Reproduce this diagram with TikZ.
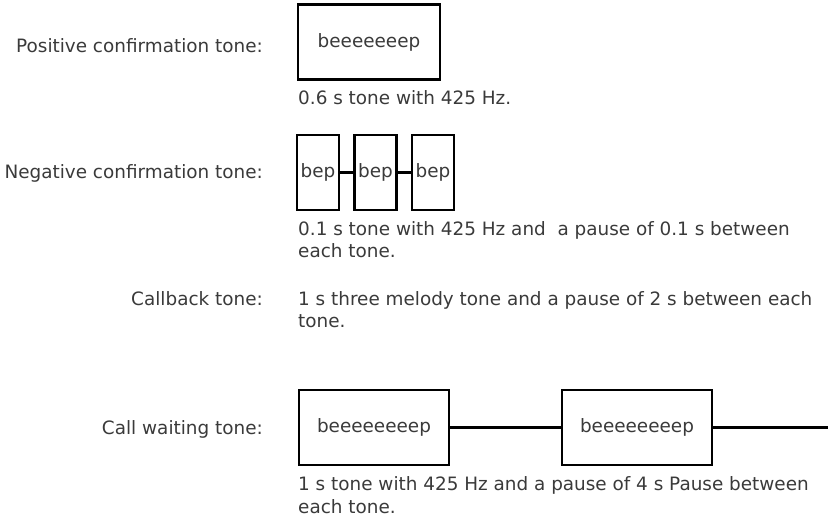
\documentclass[tikz,border=0pt]{standalone}
\usepackage{fontspec}
\setmainfont{DejaVu Sans}
\usepackage{tikz}
\usetikzlibrary{positioning}
\definecolor{txt}{HTML}{3A3A3A}

\begin{document}
\begin{tikzpicture}[
    x=1pt,y=-1pt,
    every node/.style={font=\fontsize{18.4}{22.5}\selectfont,text=txt},
    caption/.style={anchor=base east,inner sep=0pt},
    desc/.style={anchor=base west,align=left,inner sep=0pt},
    tonebox/.style={draw,line width=2.2pt,inner sep=0pt,minimum height=75pt},
    gap/.style={line width=2.2pt}]
  \useasboundingbox (0,0) rectangle (828,520);
  % positive confirmation
  \node[caption] (poslbl) at (263,52) {Positive confirmation tone:};
  \node[tonebox,minimum width=142pt] (pos) at (369,42) {beeeeeeep};
  \node[desc] (posdesc) at (298,104) {0.6 s tone with 425 Hz.};
  % negative confirmation
  \node[caption] (neglbl) at (263,178) {Negative confirmation tone:};
  \node[tonebox,minimum width=42pt] (neg1) at (318,172.5) {bep};
  \node[tonebox,minimum width=42pt] (neg2) at (375.5,172.5) {bep};
  \node[tonebox,minimum width=42pt] (neg3) at (433,172.5) {bep};
  \draw[gap] (neg1) -- (neg2);
  \draw[gap] (neg2) -- (neg3);
  \node[desc] (negdesc) at (298,257.5) {0.1 s tone with 425 Hz and~ a pause of 0.1 s between\\each tone.};
  % callback
  \node[caption] (cblbl) at (263,305) {Callback tone:};
  \node[desc] (cbdesc) at (298,327.5) {1 s three melody tone and a pause of 2 s between each\\tone.};
  % call waiting
  \node[caption] (cwlbl) at (263,434) {Call waiting tone:};
  \node[tonebox,minimum width=150pt] (cw1) at (374,427.5) {beeeeeeeep};
  \node[tonebox,minimum width=150pt] (cw2) at (637,427.5) {beeeeeeeep};
  \coordinate (cwend) at (828,427.5);
  \draw[gap] (cw1) -- (cw2);
  \draw[gap] (cw2) -- (cwend);
  \node[desc] (cwdesc) at (298,513) {1 s tone with 425 Hz and a pause of 4 s Pause between\\each tone.};
\end{tikzpicture}
\end{document}
